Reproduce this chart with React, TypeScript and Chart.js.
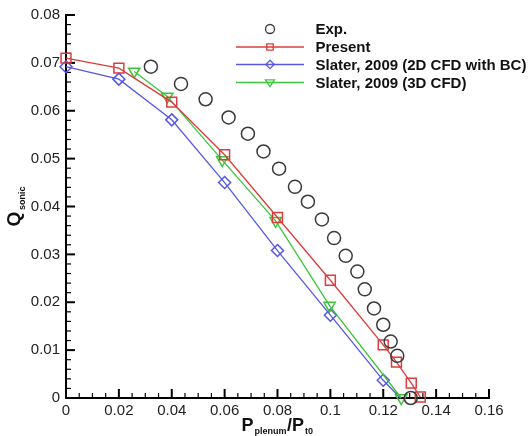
import React, { useEffect, useRef } from "react";
import { Chart, registerables } from "chart.js";

Chart.register(...registerables);

// ---------- data ----------
const xTicks = [0, 0.02, 0.04, 0.06, 0.08, 0.1, 0.12, 0.14, 0.16];
const yTicks = [0, 0.01, 0.02, 0.03, 0.04, 0.05, 0.06, 0.07, 0.08];

const seriesNames = [
  "Exp.",
  "Present",
  "Slater, 2009 (2D CFD with BC)",
  "Slater, 2009 (3D CFD)",
];

const expX = [0.0321, 0.0435, 0.0528, 0.0615, 0.0688, 0.0747, 0.0806, 0.0866, 0.0915, 0.0968, 0.1014, 0.1058, 0.1102, 0.113, 0.1165, 0.12, 0.1228, 0.1253, 0.1304];
const expY = [0.0692, 0.0656, 0.0624, 0.0586, 0.0552, 0.0515, 0.0479, 0.0441, 0.041, 0.0373, 0.0334, 0.0297, 0.0264, 0.0227, 0.0187, 0.0153, 0.0118, 0.0088, 0.0];

const presentX = [0, 0.02, 0.04, 0.06, 0.08, 0.1, 0.12, 0.125, 0.1306, 0.134];
const presentY = [0.071, 0.0689, 0.0618, 0.0508, 0.0377, 0.0246, 0.0111, 0.0075, 0.0031, 0.0002];

const slater2dX = [0, 0.02, 0.04, 0.06, 0.08, 0.1, 0.12, 0.1265];
const slater2dY = [0.0692, 0.0666, 0.0581, 0.045, 0.0308, 0.0173, 0.0037, 0.0];

const slater3dX = [0.0258, 0.0383, 0.0591, 0.0793, 0.0997, 0.1268];
const slater3dY = [0.0682, 0.063, 0.0497, 0.037, 0.0193, 0.0];

// ---------- style ----------
const FONT = "'Liberation Sans', Arial, Helvetica, sans-serif";
const GRAY = "#3a3a3a";
const RED = "#dc3c3c";
const BLUE = "#5757e6";
const GREEN = "#3cc43c";

const pts = (xs: number[], ys: number[]) => xs.map((x, i) => ({ x, y: ys[i] }));
const fmt = (v: number) => (v === 0 ? "0" : String(parseFloat(v.toFixed(3))));

function drawMarker(ctx: CanvasRenderingContext2D, kind: string, x: number, y: number, r: number) {
  ctx.beginPath();
  if (kind === "circle") {
    ctx.arc(x, y, r, 0, Math.PI * 2);
  } else if (kind === "rect") {
    ctx.rect(x - r, y - r, 2 * r, 2 * r);
  } else if (kind === "diamond") {
    ctx.moveTo(x, y - r);
    ctx.lineTo(x + r, y);
    ctx.lineTo(x, y + r);
    ctx.lineTo(x - r, y);
    ctx.closePath();
  } else if (kind === "triDown") {
    ctx.moveTo(x - r, y - r * 0.6);
    ctx.lineTo(x + r, y - r * 0.6);
    ctx.lineTo(x, y + r * 0.9);
    ctx.closePath();
  }
  ctx.stroke();
}

const decoPlugin = {
  id: "deco",
  beforeDatasetsDraw(chart: any) {
    const { ctx, chartArea } = chart;
    const xs = chart.scales.x;
    const ys = chart.scales.y;
    ctx.save();
    ctx.strokeStyle = "#000";
    // x ticks (inward)
    const xMin = xTicks[0];
    const xMax = xTicks[xTicks.length - 1];
    const xStep = (xTicks[1] - xTicks[0]) / 4;
    const nx = Math.round((xMax - xMin) / xStep);
    for (let i = 0; i <= nx; i++) {
      const px = xs.getPixelForValue(xMin + i * xStep);
      const major = i % 4 === 0;
      ctx.lineWidth = major ? 2 : 1.2;
      ctx.beginPath();
      ctx.moveTo(px, chartArea.bottom);
      ctx.lineTo(px, chartArea.bottom - (major ? 9 : 5));
      ctx.stroke();
    }
    // y ticks (inward)
    const yMin = yTicks[0];
    const yMax = yTicks[yTicks.length - 1];
    const yStep = (yTicks[1] - yTicks[0]) / 5;
    const ny = Math.round((yMax - yMin) / yStep);
    for (let i = 0; i <= ny; i++) {
      const py = ys.getPixelForValue(yMin + i * yStep);
      const major = i % 5 === 0;
      ctx.lineWidth = major ? 2 : 1.2;
      ctx.beginPath();
      ctx.moveTo(chartArea.left, py);
      ctx.lineTo(chartArea.left + (major ? 9 : 5), py);
      ctx.stroke();
    }
    ctx.restore();
  },
  afterDraw(chart: any) {
    const { ctx, chartArea } = chart;
    ctx.save();
    ctx.fillStyle = "#111";
    ctx.textBaseline = "alphabetic";
    ctx.textAlign = "left";

    // x title: P_plenum / P_t0
    const big = `bold 18px ${FONT}`;
    const small = `bold 9px ${FONT}`;
    const parts: [string, boolean][] = [["P", false], ["plenum", true], ["/P", false], ["t0", true]];
    const widths = parts.map(([t, s]) => {
      ctx.font = s ? small : big;
      return ctx.measureText(t).width + (s ? 1.5 : 0);
    });
    const total = widths.reduce((a, b) => a + b, 0);
    let cx = (chartArea.left + chartArea.right) / 2 - total / 2;
    parts.forEach(([t, s], i) => {
      ctx.font = s ? small : big;
      ctx.fillText(t, cx + (s ? 1 : 0), s ? 434 : 431);
      cx += widths[i];
    });

    // y title: Q_sonic (rotated)
    ctx.font = `bold 19px ${FONT}`;
    const qw = ctx.measureText("Q").width;
    ctx.font = small;
    const sw = ctx.measureText("sonic").width;
    const tot = qw + 1.5 + sw;
    const cy = (chartArea.top + chartArea.bottom) / 2;
    ctx.translate(19.5, cy + tot / 2);
    ctx.rotate(-Math.PI / 2);
    ctx.font = `bold 19px ${FONT}`;
    ctx.fillText("Q", 0, 0);
    ctx.font = small;
    ctx.fillText("sonic", qw + 1.5, 5.5);
    ctx.setTransform(1, 0, 0, 1, 0, 0);

    // legend
    const rows = [29, 47, 64.5, 82.5];
    const colors = [GRAY, RED, BLUE, GREEN];
    const kinds = ["circle", "rect", "diamond", "triDown"];
    const sizes = [4.5, 3.2, 4.2, 4.5];
    const lineL = 236;
    const lineR = 304;
    const mid = 270;
    rows.forEach((ry, i) => {
      ctx.strokeStyle = colors[i];
      if (i > 0) {
        ctx.lineWidth = 1.3;
        ctx.beginPath();
        ctx.moveTo(lineL, ry);
        ctx.lineTo(lineR, ry);
        ctx.stroke();
      }
      ctx.lineWidth = 1.3;
      ctx.fillStyle = "#fff";
      drawMarker(ctx, kinds[i], mid, ry, sizes[i]);
      ctx.fillStyle = "#111";
      ctx.font = `bold 15px ${FONT}`;
      ctx.fillText(seriesNames[i], 315.5, ry + 5);
    });
    ctx.restore();
  },
};

export default function App() {
  const ref = useRef<HTMLCanvasElement | null>(null);

  useEffect(() => {
    if (!ref.current) return;
    const tickFont = { family: FONT, size: 15 };
    const chart = new Chart(ref.current, {
      type: "scatter",
      data: {
        datasets: [
          {
            label: seriesNames[0],
            data: pts(expX, expY),
            showLine: false,
            pointStyle: "circle",
            pointRadius: 6.5,
            pointBorderWidth: 1.5,
            pointBorderColor: GRAY,
            pointBackgroundColor: "rgba(0,0,0,0)",
            clip: false,
            order: 0,
          },
          {
            label: seriesNames[1],
            data: pts(presentX, presentY),
            showLine: true,
            borderColor: RED,
            borderWidth: 1.3,
            pointStyle: "rect",
            pointRadius: 7,
            pointBorderWidth: 1.5,
            pointBorderColor: RED,
            pointBackgroundColor: "rgba(0,0,0,0)",
            clip: false,
            order: 1,
          },
          {
            label: seriesNames[2],
            data: pts(slater2dX, slater2dY),
            showLine: true,
            borderColor: BLUE,
            borderWidth: 1.3,
            pointStyle: "rectRot",
            pointRadius: (c: any) => (c.dataIndex === slater2dX.length - 1 ? 0 : 6),
            pointBorderWidth: 1.5,
            pointBorderColor: BLUE,
            pointBackgroundColor: "rgba(0,0,0,0)",
            clip: false,
            order: 3,
          },
          {
            label: seriesNames[3],
            data: pts(slater3dX, slater3dY),
            showLine: true,
            borderColor: GREEN,
            borderWidth: 1.3,
            pointStyle: "triangle",
            rotation: 180,
            pointRadius: 6.5,
            pointBorderWidth: 1.5,
            pointBorderColor: GREEN,
            pointBackgroundColor: "rgba(0,0,0,0)",
            clip: false,
            order: 2,
          },
        ] as any,
      },
      options: {
        animation: false,
        responsive: false,
        devicePixelRatio: 1,
        layout: { padding: { top: 13, right: 39, left: 0, bottom: 0 } },
        plugins: { legend: { display: false }, tooltip: { enabled: false } },
        scales: {
          x: {
            type: "linear",
            min: xTicks[0],
            max: xTicks[xTicks.length - 1],
            afterBuildTicks: (s: any) => {
              s.ticks = xTicks.map((v) => ({ value: v }));
            },
            afterFit: (s: any) => {
              s.height = 38;
            },
            ticks: {
              callback: (v: any) => fmt(Number(v)),
              font: tickFont,
              color: "#222",
              padding: 4,
              maxRotation: 0,
              autoSkip: false,
            },
            grid: { display: false, drawTicks: false },
            border: { display: true, color: "#000", width: 2 },
          },
          y: {
            type: "linear",
            min: yTicks[0],
            max: yTicks[yTicks.length - 1],
            afterBuildTicks: (s: any) => {
              s.ticks = yTicks.map((v) => ({ value: v }));
            },
            afterFit: (s: any) => {
              s.width = 66;
            },
            ticks: {
              callback: (v: any) => fmt(Number(v)),
              font: tickFont,
              color: "#222",
              padding: 6,
              autoSkip: false,
            },
            grid: { display: false, drawTicks: false },
            border: { display: true, color: "#000", width: 2 },
          },
        },
      } as any,
      plugins: [decoPlugin],
    });
    return () => chart.destroy();
  }, []);

  return (
    <div style={{ position: "fixed", left: 0, top: 0, width: 528, height: 436, background: "#fff" }}>
      <canvas ref={ref} width={528} height={436} style={{ display: "block" }} />
    </div>
  );
}
